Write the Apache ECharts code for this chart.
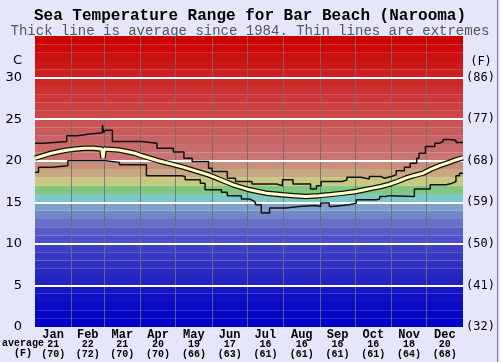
<!DOCTYPE html>
<html><head><meta charset="utf-8">
<script src="https://cdn.jsdelivr.net/npm/echarts@6/dist/echarts.min.js"></script>
<style>html,body{margin:0;padding:0;background:#e6e6fa}#c{width:500px;height:362px}</style>
</head><body><div id="c"></div>
<script>
const months = ['Jan','Feb','Mar','Apr','May','Jun','Jul','Aug','Sep','Oct','Nov','Dec'];
const monthDays = [31,28,31,30,31,30,31,31,30,31,30,31];
const avgCLabels = ['21','22','21','20','19','17','16','16','16','16','18','20'];
const avgFLabels = ['(70)','(72)','(70)','(70)','(66)','(63)','(61)','(61)','(61)','(61)','(64)','(68)'];
const cTicks = [0,5,10,15,20,25,30];

const avgDays  = [0,7,14,21,28,35,42,50,57,58,59,65,71,78,85,91,98,105,112,119,127,134,141,148,155,162,169,176,183,190,197,204,211,221,231,242,253,263,274,281,288,295,302,309,316,323,331,338,345,352,359,365];
const avgTemps = [20.3,20.6,20.9,21.1,21.3,21.4,21.5,21.5,21.4,20.3,21.4,21.35,21.3,21.1,20.9,20.6,20.3,20.0,19.75,19.5,19.2,18.9,18.6,18.3,17.9,17.5,17.1,16.8,16.5,16.3,16.1,16.0,15.9,15.8,15.7,15.8,15.95,16.1,16.3,16.5,16.7,16.9,17.15,17.5,17.9,18.2,18.5,19.0,19.4,19.75,20.1,20.35];

const maxDays  = [0,8,27,36,47,57.5,58.5,60,66,91,104,118,127,134,148,151,164,171,185,206,211,220,235,240,244,262,266,278,285,295,298,304,308,315,320,325.5,327.5,333,341,345,348,353,359,365];
const maxTemps = [22.1,22.3,23.0,23.2,23.35,24.3,23.4,23.65,22.3,22.1,21.5,21.05,20.3,19.9,19.1,18.7,17.9,17.5,17.2,17.0,17.7,17.2,16.6,17.0,17.5,17.7,18.0,17.8,18.1,17.9,18.1,18.3,18.8,19.2,19.7,20.3,20.9,21.7,22.1,22.3,22.55,22.45,22.2,22.2];

const minDays  = [0,3,14,28,60,72,95,125,128,141,145,159,164,176,183,186,188,193,200,214,225,239,243.6,251,254,268,274,282,291,294,299,302,323.5,337,350.5,356,359,362,365];
const minTemps = [18.6,19.2,19.4,20.0,19.8,19.5,18.2,18.1,17.7,17.3,16.5,16.2,15.8,15.4,15.2,15.0,14.7,13.7,14.3,14.5,14.6,14.5,14.9,14.5,14.7,14.9,15.3,15.3,15.4,15.7,15.8,15.7,16.6,17.1,17.3,17.5,18.2,18.5,18.5];

const bandColors = ['#0000c8','#0505c5','#0a0ac5','#1010c5','#1515c3','#2222c0','#2828c0','#3030c0','#3838c2','#4040c4',
 '#5050c8','#5a5ac8','#6870c8','#7088c8','#80a0c8','#80c8c8','#80c880','#c8c880','#c8a880','#c8907c',
 '#c87474','#c86c6c','#c86464','#c85c5c','#c85454','#cc4848','#cc4040','#cc3838','#cc3030','#cc2828',
 '#cc2020','#cc1818','#cc1010','#cc0808','#cc0000'];

const bounds = []; let acc = 0;
monthDays.forEach(d => { acc += d; bounds.push(acc); });
const mids = monthDays.map((d, i) => (bounds[i] - d + bounds[i]) / 2);

const pairs = (xs, ys) => xs.map((x, i) => [x, ys[i]]);
const mono = 'Liberation Mono';

const chart = echarts.init(document.getElementById('c'));
chart.setOption({
  backgroundColor: '#e6e6fa',
  animation: false,
  title: [
    {text: 'Sea Temperature Range for Bar Beach (Narooma)', left: 'center', top: 3,
     textStyle: {fontFamily: mono, fontWeight: 'bold', fontSize: 16, color: '#000'}},
    {text: 'Thick line is average since 1984. Thin lines are extremes', left: 'center', top: 19,
     textStyle: {fontFamily: mono, fontWeight: 'normal', fontSize: 14, color: '#555'}}
  ],
  grid: {left: 35, right: 37, top: 36, bottom: 35},
  xAxis: {
    type: 'value', min: 0, max: 365,
    axisLine: {show: false}, axisTick: {show: false}, splitLine: {show: false},
    axisLabel: {
      customValues: mids, margin: 2, interval: 0,
      formatter: v => { const i = mids.indexOf(v); return i < 0 ? '' : '{m|' + months[i] + '}\n{v|' + avgCLabels[i] + '}\n{v|' + avgFLabels[i] + '}'; },
      rich: {
        m: {fontFamily: mono, fontWeight: 'bold', fontSize: 12, lineHeight: 11, color: '#000'},
        v: {fontFamily: mono, fontWeight: 'bold', fontSize: 10, lineHeight: 9.5, color: '#000'}
      }
    }
  },
  yAxis: [
    {type: 'value', min: 0, max: 35, interval: 5, position: 'left',
     axisLine: {show: false}, axisTick: {show: false}, splitLine: {show: false},
     axisLabel: {formatter: v => cTicks.includes(v) ? String(v) : '', margin: 13,
       fontFamily: 'DejaVu Sans', fontSize: 13, color: '#000'}},
    {type: 'value', min: 0, max: 35, interval: 5, position: 'right',
     axisLine: {show: false}, axisTick: {show: false}, splitLine: {show: false},
     axisLabel: {formatter: v => cTicks.includes(v) ? '(' + Math.round(v * 1.8 + 32) + ')' : '', margin: 3,
       fontFamily: 'DejaVu Sans Mono', fontSize: 12, color: '#000'}}
  ],
  graphic: [
    {type: 'text', left: null, x: 22, y: 61, style: {text: 'C', fontFamily: 'DejaVu Sans', fontSize: 13, fill: '#000', align: 'right', verticalAlign: 'middle'}},
    {type: 'text', x: 481, y: 62, style: {text: '(F)', fontFamily: 'DejaVu Sans Mono', fontSize: 12, fill: '#000', align: 'center', verticalAlign: 'middle'}},
    {type: 'text', x: 23, y: 343.5, style: {text: 'average', fontFamily: mono, fontWeight: 'bold', fontSize: 10, fill: '#000', align: 'center', verticalAlign: 'middle'}},
    {type: 'text', x: 23, y: 353, style: {text: '(F)', fontFamily: mono, fontWeight: 'bold', fontSize: 10, fill: '#000', align: 'center', verticalAlign: 'middle'}},
    {type: 'line', shape: {x1: 497.5, y1: 0, x2: 497.5, y2: 362}, style: {stroke: '#777', lineWidth: 1}}
  ],
  series: [
    {type: 'line', name: 'bg', data: [], silent: true, z: 1,
     markArea: {silent: true, z: 1, itemStyle: {borderWidth: 0},
       data: bandColors.map((c, i) => [{yAxis: i, itemStyle: {color: c}}, {yAxis: i + 1}])},
     markLine: {silent: true, z: 1.2, symbol: 'none', label: {show: false},
       data: [
         ...bounds.slice(0, 11).map(b => ({xAxis: b, lineStyle: {color: 'rgba(110,110,110,0.85)', width: 1, type: 'solid'}})),
         ...cTicks.slice(1).map(t => ({yAxis: t, lineStyle: {color: '#ffffff', width: 2, type: 'solid'}}))
       ]}
    },
    {type: 'line', name: 'max', data: pairs(maxDays, maxTemps), step: 'end', showSymbol: false, z: 3,
     lineStyle: {color: '#111', width: 1.5}},
    {type: 'line', name: 'min', data: pairs(minDays, minTemps), step: 'end', showSymbol: false, z: 3,
     lineStyle: {color: '#111', width: 1.5}},
    {type: 'line', name: 'avgOutline', data: pairs(avgDays, avgTemps), showSymbol: false, z: 4,
     lineStyle: {color: '#111', width: 5.5}},
    {type: 'line', name: 'avg', data: pairs(avgDays, avgTemps), showSymbol: false, z: 5,
     lineStyle: {color: '#ffffc0', width: 3}}
  ]
});
</script></body></html>
